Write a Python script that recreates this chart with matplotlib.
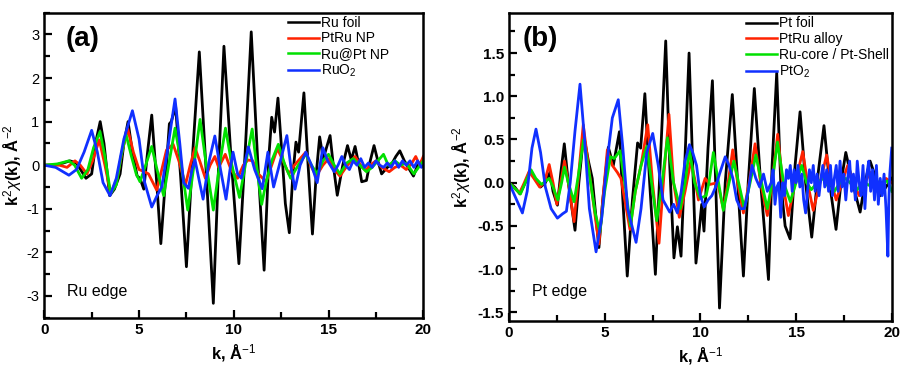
import matplotlib.pyplot as plt
from matplotlib.ticker import MultipleLocator

plt.rcParams['font.family'] = ['Liberation Sans', 'DejaVu Sans']
plt.rcParams['mathtext.fontset'] = 'custom'
plt.rcParams['mathtext.rm'] = 'Liberation Sans'
plt.rcParams['mathtext.it'] = 'Liberation Sans:italic'
plt.rcParams['mathtext.bf'] = 'Liberation Sans:bold'
plt.rcParams['axes.unicode_minus'] = False

# ---- panel (a): Ru K edge ----
ru_foil_k = [0, 0.5, 1.0, 1.35, 1.7, 2.2, 2.5, 2.75, 2.95, 3.15, 3.45, 3.7, 4.0, 4.2, 4.42, 4.65, 4.9, 5.05, 5.25, 5.45,
             5.67, 5.9, 6.15, 6.4, 6.6, 6.7, 6.93, 7.2, 7.5, 7.85, 8.18, 8.55, 8.92, 9.2, 9.48, 9.85, 10.27, 10.6, 10.92,
             11.25, 11.6, 11.85, 12.0, 12.15, 12.33, 12.55, 12.72, 12.93, 13.12, 13.28, 13.42, 13.7, 13.92, 14.15, 14.35,
             14.53, 14.72, 15.08, 15.25, 15.46, 15.75, 16.0, 16.2, 16.4, 16.6, 16.75, 17.0, 17.2, 17.4, 17.6, 17.8, 18.1,
             18.3, 18.55, 18.76, 19.0, 19.2, 19.48, 19.7, 20.0]
ru_foil_y = [0, 0, 0.05, 0.1, 0.05, -0.3, -0.2, 0.6, 1.0, 0.5, -0.7, -0.55, -0.2, 0.5, 1.0, 0.3, -0.25, -0.3, -0.55, 0.3,
             1.15, -0.2, -1.8, -0.3, 0.95, 1.0, 1.35, -0.3, -2.33, 0.4, 2.6, -0.2, -3.17, 0.0, 2.73, 0.2, -2.26, 0.3, 3.06,
             0.2, -2.41, 0.2, 1.1, 0.76, 1.54, 0.2, -0.88, -1.55, -0.2, 0.53, 0.3, 1.66, 0.0, -1.58, -0.2,
             0.65, 0.15, 0.68, 0.0, -0.69, 0.0, 0.45, 0.12, 0.43, 0.0, -0.38, -0.35, 0.1, 0.45, 0.1, -0.2, -0.05,
             0.0, 0.2, 0.33, 0.1, -0.05, -0.25, 0.0, 0.1]

ptru_np_k = [0, 0.8, 1.2, 1.62, 1.9, 2.25, 2.55, 2.9, 3.2, 3.5, 3.85, 4.1, 4.4, 4.7, 5.0, 5.3, 5.5, 5.93, 6.2, 6.45, 6.8,
             7.1, 7.45, 7.7, 7.95, 8.2, 8.5, 8.75, 9.0, 9.2, 9.55, 9.85, 10.2, 10.5, 10.75, 11.0, 11.3, 11.7, 12.0, 12.3,
             12.6, 12.9, 13.2, 13.4, 13.8, 14.05, 14.35, 14.7, 15.0, 15.3, 15.6, 16.0, 16.4, 16.7, 16.95, 17.2, 17.5,
             17.8, 18.2, 18.5, 18.8, 19.1, 19.4, 19.6, 19.8, 20.0]
ptru_np_y = [0, 0.0, -0.05, 0.1, 0.0, -0.2, 0.1, 0.58, 0.0, -0.65, -0.3, 0.3, 0.84, 0.3, -0.1, -0.15, -0.2, -0.57, -0.1,
             0.35, 0.48, 0.1, -0.45, 0.0, 0.4, 0.1, -0.3, 0.0, 0.2, -0.05, 0.25, -0.1, -0.3, 0.0, 0.12, 0.1, -0.2, -0.38,
             0.0, 0.38, 0.1, -0.2, 0.0, 0.1, 0.3, 0.0, -0.25, 0.0, 0.15, -0.1, -0.25, 0.0, 0.2, 0.0, -0.12, 0.0, 0.1,
             -0.05, -0.15, -0.05, 0.0, -0.1, 0.05, 0.2, 0.0, 0.2]

rupt_np_k = [0, 0.7, 1.3, 1.6, 1.97, 2.3, 2.6, 2.94, 3.2, 3.5, 3.8, 4.05, 4.31, 4.6, 4.85, 5.05, 5.35, 5.67, 5.95, 6.3,
             6.6, 6.9, 7.2, 7.57, 7.9, 8.22, 8.55, 8.92, 9.25, 9.56, 9.9, 10.3, 10.65, 10.97, 11.2, 11.47, 11.7, 12.0,
             12.35, 12.7, 13.0, 13.4, 13.8, 14.1, 14.4, 14.7, 15.0, 15.3, 15.6, 15.95, 16.3, 16.65, 17.0, 17.3, 17.6,
             17.9, 18.15, 18.5, 18.8, 19.1, 19.5, 19.75, 20.0]
rupt_np_y = [0, 0.03, 0.1, 0.0, -0.3, -0.1, 0.4, 0.77, 0.2, -0.65, -0.45, 0.2, 0.71, 0.2, -0.2, -0.38, 0.0, 0.43, -0.1,
             -0.7, 0.1, 0.85, 0.1, -1.03, 0.0, 1.05, 0.0, -1.03, 0.0, 0.85, 0.0, -0.74, 0.1, 0.83, 0.0, -0.9, -0.4, 0.1,
             0.48, 0.0, -0.3, 0.0, 0.25, 0.0, -0.2, 0.1, 0.25, 0.0, -0.2, 0.05, 0.15, 0.0, -0.15, -0.05, 0.1,
             0.25, 0.0, 0.1, 0.0, 0.05, -0.2, -0.05, 0.1]

ruo2_k = [0, 0.6, 1.3, 1.7, 2.1, 2.5, 2.8, 3.1, 3.47, 3.8, 4.2, 4.65, 5.0, 5.3, 5.67, 5.95, 6.2, 6.45, 6.9, 7.15, 7.35,
          7.6, 7.8, 7.95, 8.15, 8.38, 8.7, 9.0, 9.3, 9.59, 9.8, 9.96, 10.2, 10.4, 10.77, 11.1, 11.5, 11.8, 11.95, 12.1,
          12.4, 12.8, 13.0, 13.23, 13.5, 13.8, 14.1, 14.4, 14.7, 14.95, 15.3, 15.5, 15.7, 15.9, 16.1, 16.3, 16.5, 16.7,
          16.9, 17.1, 17.3, 17.5, 17.7, 17.9, 18.1, 18.3, 18.5, 18.7, 18.9, 19.1, 19.3, 19.5, 19.7, 19.9, 20.0]
ruo2_y = [0, -0.05, -0.23, -0.1, 0.3, 0.8, 0.3, -0.4, -0.7, -0.3, 0.6, 1.25, 0.6, -0.4, -0.96, -0.7, -0.5, 0.2, 1.52,
          0.5, -0.4, -0.53, -0.1, 0.13, -0.3, -0.78, 0.1, 0.67, -0.1, -0.78, -0.1, 0.3, -0.2, -0.3, 0.42, -0.1, -0.54,
          0.3, -0.1, -0.5, 0.0, 0.68, 0.0, -0.55, 0.0, 0.3, 0.0, -0.4, 0.4, 0.1, -0.15, 0.0, 0.2, 0.0, -0.1, 0.1, 0.0,
          0.15, -0.05, 0.05, -0.05, 0.1, 0.0, -0.05, 0.05, -0.05, 0.1, -0.05, 0.1, 0.0, 0.1, -0.05, 0.1, -0.05, 0.0]

# ---- panel (b): Pt L3 edge ----
pt_foil_k = [0, 0.3, 0.57, 0.85, 1.1, 1.35, 1.65, 1.9, 2.14, 2.3, 2.53, 2.7, 2.89, 3.1, 3.45, 3.65, 3.9, 4.15, 4.35, 4.5,
             4.7, 4.9, 5.19, 5.45, 5.77, 5.95, 6.18, 6.45, 6.72, 6.88, 7.1, 7.35, 7.65, 7.9, 8.19, 8.4, 8.62, 8.8, 8.99,
             9.2, 9.41, 9.6, 9.77, 10.07, 10.19, 10.4, 10.63, 10.8, 11.0, 11.3, 11.67, 11.95, 12.25, 12.5, 12.82, 13.15,
             13.56, 13.75, 13.99, 14.2, 14.43, 14.69, 14.95, 15.21, 15.5, 15.82, 16.15, 16.46, 16.75, 17.09, 17.35,
             17.6, 17.95, 18.35, 18.6, 18.87, 19.1, 19.4, 19.7, 20.0]
pt_foil_y = [0, -0.05, -0.13, 0.0, 0.14, 0.05, -0.05, 0.0, 0.12, -0.1, -0.26, 0.1, 0.45, 0.0, -0.55, 0.0, 0.55, 0.25,
             0.05, -0.3, -0.75, -0.2, 0.41, 0.2, 0.59, -0.2, -1.08, -0.2, 0.46, 0.4, 1.03, 0.0, -1.06, 0.2, 1.64, 0.2,
             -0.87, -0.51, -0.85, 0.3, 1.5, 0.2, -0.93, -0.25, -0.56, 0.4, 1.18, 0.0, -1.45, 0.0, 1.02, 0.0, -1.08,
             0.0, 1.09, 0.0, -1.12, 0.2, 1.27, 0.0, -0.5, -0.65, 0.2, 0.82, 0.0, -0.63, 0.1, 0.66, 0.0, -0.54, 0.0,
             0.35, 0.0, -0.34, 0.0, 0.25, 0.1, -0.15, -0.05, 0.05]

ptru_alloy_k = [0, 0.55, 0.8, 1.05, 1.3, 1.6, 1.85, 2.1, 2.3, 2.5, 2.7, 2.9, 3.1, 3.4, 3.6, 3.88, 4.15, 4.45, 4.7, 4.9,
                5.14, 5.4, 5.66, 5.85, 6.05, 6.32, 6.6, 6.9, 7.25, 7.5, 7.84, 8.1, 8.36, 8.6, 8.9, 9.2, 9.5, 9.7, 9.9,
                10.25, 10.5, 10.9, 11.2, 11.45, 11.69, 11.95, 12.25, 12.55, 12.86, 13.15, 13.5, 13.75, 14.04, 14.3,
                14.6, 14.95, 15.35, 15.6, 15.9, 16.25, 16.6, 16.85, 17.1, 17.4, 17.7, 18.0, 18.3, 18.6, 18.87, 19.15,
                19.4, 19.7, 20.0]
ptru_alloy_y = [0, -0.12, 0.0, 0.13, 0.05, -0.05, 0.0, 0.21, 0.0, -0.25, 0.0, 0.25, 0.0, -0.45, 0.0, 0.67, 0.2, -0.3,
                -0.71, -0.2, 0.38, 0.2, 0.12, 0.05, -0.2, -0.54, -0.1, 0.2, 0.67, 0.0, -0.7, 0.1, 0.79, 0.0, -0.4,
                -0.1, 0.25, 0.05, -0.2, 0.05, -0.02, 0.0, -0.3, 0.0, 0.38, 0.0, -0.35, 0.0, 0.45, 0.0, -0.38, 0.0,
                0.56, 0.0, -0.38, 0.0, 0.36, 0.0, -0.32, 0.0, 0.32, 0.0, -0.2, 0.0, 0.2, 0.0, -0.15, 0.0, 0.12, 0.0,
                -0.05, 0.05, 0.0]

core_shell_k = [0, 0.6, 0.85, 1.15, 1.4, 1.7, 2.1, 2.3, 2.55, 2.75, 2.9, 3.1, 3.4, 3.6, 3.9, 4.2, 4.5, 4.75, 5.0, 5.3,
                5.5, 5.8, 6.05, 6.35, 6.6, 6.9, 7.2, 7.45, 7.72, 8.0, 8.28, 8.6, 8.95, 9.2, 9.43, 9.7, 10.0, 10.3,
                10.45, 10.68, 10.95, 11.2, 11.5, 11.75, 12.0, 12.3, 12.6, 12.9, 13.2, 13.5, 13.75, 14.03, 14.35, 14.7,
                15.0, 15.3, 15.55, 15.8, 16.1, 16.4, 16.7, 17.0, 17.3, 17.6, 17.9, 18.2, 18.5, 18.8, 19.1, 19.5, 19.8,
                20.0]
core_shell_y = [0, -0.13, 0.0, 0.15, 0.05, -0.02, 0.05, -0.05, -0.2, 0.0, 0.18, 0.0, -0.22, 0.05, 0.5, 0.1, -0.35,
                -0.57, -0.1, 0.3, 0.28, 0.37, 0.0, -0.5, -0.1, 0.2, 0.42, 0.0, -0.44, 0.0, 0.52, 0.0, -0.3, 0.0, 0.38,
                0.0, -0.18, -0.15, 0.0, 0.35, 0.0, -0.32, 0.0, 0.25, 0.0, -0.3, 0.0, 0.32, 0.0, -0.3, 0.0, 0.47, 0.0,
                -0.22, 0.0, 0.2, 0.0, -0.08, 0.0, 0.05, -0.05, -0.1, 0.0, 0.05, -0.02, -0.08, 0.02, -0.03, 0.02, 0.0,
                0.02, -0.1]

pto2_k = [0, 0.3, 0.7, 0.95, 1.2, 1.41, 1.65, 1.9, 2.2, 2.53, 2.8, 3.0, 3.2, 3.45, 3.71, 3.95, 4.2, 4.55, 4.85, 5.1,
          5.4, 5.71, 5.95, 6.2, 6.64, 6.9, 7.2, 7.51, 7.8, 8.05, 8.4, 8.6, 8.8, 9.0, 9.2, 9.43, 9.6, 9.8, 10.0, 10.2,
          10.4, 10.6, 10.8, 11.0, 11.3, 11.5, 11.7, 11.9, 12.1, 12.3, 12.5, 12.7, 12.9, 13.1, 13.3, 13.5, 13.7, 13.8,
          13.9, 14.0, 14.1, 14.2, 14.3, 14.4, 14.5, 14.6, 14.7, 14.8, 14.9, 15.0, 15.1, 15.2, 15.3, 15.4, 15.5, 15.6,
          15.7, 15.8, 15.9, 16.0, 16.1, 16.2, 16.3, 16.4, 16.5, 16.6, 16.7, 16.8, 16.9, 17.0, 17.1, 17.2, 17.3, 17.4,
          17.5, 17.6, 17.7, 17.8, 17.9, 18.0, 18.1, 18.2, 18.3, 18.4, 18.5, 18.6, 18.7, 18.8, 18.9, 19.0, 19.1, 19.2,
          19.3, 19.4, 19.5, 19.6, 19.7, 19.8, 19.85, 19.9, 20.0]
pto2_y = [0, -0.15, -0.35, -0.1, 0.4, 0.62, 0.35, -0.05, -0.3, -0.41, -0.36, -0.33, 0.0, 0.6, 1.14, 0.5, -0.3, -0.8,
          -0.4, 0.2, 0.75, 0.96, 0.4, -0.3, -0.69, -0.3, 0.35, 0.57, 0.2, -0.2, -0.34, -0.25, -0.35, -0.1, 0.25, 0.44,
          0.35, 0.2, -0.15, -0.28, -0.2, -0.15, -0.05, 0.1, 0.3, 0.2, 0.05, -0.2, -0.3, -0.3, -0.1, 0.2, 0.05, -0.05,
          0.1, -0.1, 0.0, 0.15, -0.25, -0.05, 0.0, -0.4, 0.0, -0.15, 0.15, 0.05, 0.2, -0.1, 0.15, 0.0, 0.2, -0.05,
          0.1, -0.2, -0.35, -0.1, 0.15, 0.0, 0.2, -0.1, 0.1, -0.15, 0.05, 0.2, -0.05, 0.15, -0.1, 0.2, -0.15, 0.05,
          0.2, -0.1, 0.25, -0.05, 0.1, -0.2, 0.05, 0.25, -0.1, 0.1, -0.2, 0.25, 0.0, -0.15, 0.2, -0.3, 0.1, 0.25,
          -0.1, 0.15, -0.2, 0.2, -0.25, 0.05, -0.15, 0.1, -0.3, -0.85, -0.2, 0.1, 0.4]

colors = ['black', '#ff2200', '#00e000', '#1030ff']

fig = plt.figure(figsize=(9.02, 3.68), dpi=100)
ax1 = fig.add_axes([0.0491, 0.1367, 0.4202, 0.8288])
ax2 = fig.add_axes([0.5643, 0.1277, 0.4243, 0.8362])

series_a = [(ru_foil_k, ru_foil_y, 'Ru foil'), (ptru_np_k, ptru_np_y, 'PtRu NP'),
            (rupt_np_k, rupt_np_y, 'Ru@Pt NP'), (ruo2_k, ruo2_y, r'RuO$_2$')]
series_b = [(pt_foil_k, pt_foil_y, 'Pt foil'), (ptru_alloy_k, ptru_alloy_y, 'PtRu alloy'),
            (core_shell_k, core_shell_y, 'Ru-core / Pt-Shell'), (pto2_k, pto2_y, r'PtO$_2$')]

for (k, y, lab), c in zip(series_a, colors):
    ax1.plot(k, y, color=c, lw=2.0, label=lab, solid_joinstyle='round')
for (k, y, lab), c in zip(series_b, colors):
    ax2.plot(k, y, color=c, lw=2.0, label=lab, solid_joinstyle='round')

ax1.set_ylim(-3.5, 3.5)
ax2.set_ylim(-1.6, 1.96)
ax1.yaxis.set_major_locator(MultipleLocator(1))
ax1.yaxis.set_minor_locator(MultipleLocator(0.5))
ax2.yaxis.set_major_locator(MultipleLocator(0.5))
ax2.yaxis.set_minor_locator(MultipleLocator(0.25))

for ax in (ax1, ax2):
    ax.set_xlim(0, 20)
    ax.xaxis.set_major_locator(MultipleLocator(5))
    ax.xaxis.set_minor_locator(MultipleLocator(2.5))
    ax.tick_params(which='both', direction='in', top=False, right=False, width=1.6)
    ax.tick_params(which='major', length=6, labelsize=11)
    ax.tick_params(which='minor', length=4)
    for s in ax.spines.values():
        s.set_linewidth(1.8)
    for t in ax.get_xticklabels():
        t.set_fontweight('bold')
    ax.set_ylabel(r'k$^2\chi$(k), Å$^{-2}$', fontsize=12, fontweight='bold')
    leg = ax.legend(loc='upper left', frameon=False, fontsize=10, handlelength=2.2,
                    handletextpad=0.15, labelspacing=0.12, borderpad=0, borderaxespad=0)
    for h in leg.get_lines():
        h.set_linewidth(1.8)

ax1.yaxis.set_label_coords(-0.054, 0.5)
ax2.yaxis.set_label_coords(-0.095, 0.5)

for t in ax1.get_yticklabels():
    t.set_fontsize(10.5)
for t in ax2.get_yticklabels():
    t.set_fontweight('bold')

ax1.get_legend().set_bbox_to_anchor((0.643, 0.99), transform=ax1.transAxes)
ax2.get_legend().set_bbox_to_anchor((0.62, 0.99), transform=ax2.transAxes)

ax1.set_xlabel(r'k, Å$^{-1}$', fontsize=12, fontweight='bold', labelpad=4)
ax2.set_xlabel(r'k, Å$^{-1}$', fontsize=12, fontweight='bold', labelpad=4)

ax1.text(0.055, 0.914, '(a)', transform=ax1.transAxes, fontsize=20, fontweight='bold', va='center', ha='left')
ax2.text(0.036, 0.916, '(b)', transform=ax2.transAxes, fontsize=20, fontweight='bold', va='center', ha='left')
ax1.text(0.06, 0.086, 'Ru edge', transform=ax1.transAxes, fontsize=11.5, va='center', ha='left')
ax2.text(0.059, 0.096, 'Pt edge', transform=ax2.transAxes, fontsize=11.5, va='center', ha='left')

fig.savefig('out.png', dpi=100)
